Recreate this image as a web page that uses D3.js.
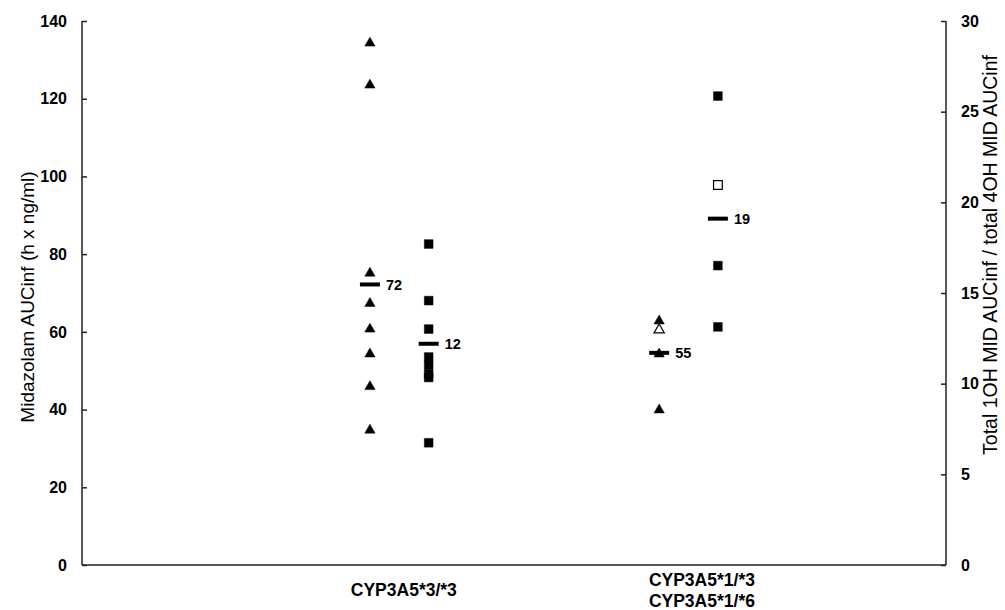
<!DOCTYPE html>
<html>
<head>
<meta charset="utf-8">
<script src="https://cdn.jsdelivr.net/npm/d3@7"></script>
<style>
  html, body { margin: 0; padding: 0; background: #fff; }
  svg { display: block; font-family: "Liberation Sans", Arial, sans-serif; }
</style>
</head>
<body>
<svg id="chart" width="1005" height="610"></svg>
<script>
// ---- data ----
const categories = ["CYP3A5*3/*3", "CYP3A5*1/*3\nCYP3A5*1/*6"];
// Midazolam AUCinf (left axis), triangles
const aucGroup1 = [134.3, 123.5, 75.1, 67.3, 60.7, 54.3, 45.9, 34.7];
const aucGroup1Open = [false, false, false, false, false, false, false, false];
const aucGroup2 = [62.8, 60.5, 54.3, 39.9];
const aucGroup2Open = [false, true, false, false];
// Ratio 1OH / 4OH (right axis), squares
const ratioGroup1 = [17.70, 14.58, 13.01, 11.47, 11.02, 10.53, 10.34, 6.74];
const ratioGroup1Open = [false, false, false, false, false, false, false, false];
const ratioGroup2 = [25.86, 20.96, 16.51, 13.13];
const ratioGroup2Open = [false, true, false, false];
// group means (drawn as bars with labels)
const aucMeans = [72.2, 54.6];
const ratioMeans = [12.2, 19.1];
const leftTicks = [0, 20, 40, 60, 80, 100, 120, 140];
const rightTicks = [0, 5, 10, 15, 20, 25, 30];
const leftTitle = "Midazolam AUCinf (h x ng/ml)";
const rightTitle = "Total 1OH MID AUCinf / total 4OH MID AUCinf";

// ---- layout ----
const svg = d3.select("#chart");
const L = 82, R = 946, T = 21, B = 565;
const x = d3.scaleLinear().domain([0, 4]).range([L, R]);
const yL = d3.scaleLinear().domain([0, 140]).range([B, T]);
const yR = d3.scaleLinear().domain([0, 30]).range([B, T]);
const catPos = [1.467, 2.806];
const seriesOff = [-0.134, 0.138];
const labelPos = [1.49, 2.87];
const axisColor = "#222";

// axes lines
const axG = svg.append("g").attr("stroke", axisColor).attr("stroke-width", 1.5).attr("fill", "none");
axG.append("line").attr("x1", L).attr("x2", L).attr("y1", T).attr("y2", B);
axG.append("line").attr("x1", R).attr("x2", R).attr("y1", T).attr("y2", B);
axG.append("line").attr("x1", L).attr("x2", R).attr("y1", B).attr("y2", B);

// left axis
const leftAxis = d3.axisRight(yL).tickValues(leftTicks).tickSize(5).tickFormat("");
const gl = svg.append("g").attr("transform", `translate(${L},0)`).call(leftAxis);
gl.select(".domain").remove();
gl.selectAll(".tick line").attr("stroke", axisColor).attr("stroke-width", 1.5);
svg.append("g").selectAll("text").data(leftTicks).join("text")
  .attr("x", L - 15).attr("y", d => yL(d)).attr("dy", "0.36em")
  .attr("text-anchor", "end").attr("font-weight", "bold").attr("font-size", 16)
  .attr("fill", "#000").text(d => d);

// right axis
const rightAxis = d3.axisLeft(yR).tickValues(rightTicks).tickSize(5).tickFormat("");
const gr = svg.append("g").attr("transform", `translate(${R},0)`).call(rightAxis);
gr.select(".domain").remove();
gr.selectAll(".tick line").attr("stroke", axisColor).attr("stroke-width", 1.5);
svg.append("g").selectAll("text").data(rightTicks).join("text")
  .attr("x", R + 15).attr("y", d => yR(d)).attr("dy", "0.36em")
  .attr("text-anchor", "start").attr("font-weight", "bold").attr("font-size", 16)
  .attr("fill", "#000").text(d => d);

// axis titles
svg.append("text")
  .attr("transform", `translate(27,297) rotate(-90)`)
  .attr("text-anchor", "middle").attr("dy", "0.35em")
  .attr("font-size", 19).attr("fill", "#000").text(leftTitle);
svg.append("text")
  .attr("transform", `translate(990,255) rotate(-90)`)
  .attr("text-anchor", "middle").attr("dy", "0.35em")
  .attr("font-size", 19.5).attr("fill", "#000").text(rightTitle);

// category labels
categories.forEach((c, i) => {
  const lines = c.split("\n");
  const t = svg.append("text").attr("text-anchor", "middle")
    .attr("font-weight", "bold").attr("font-size", 17.5).attr("fill", "#000");
  const lh = 21;
  const centerY = 590;
  lines.forEach((ln, j) => {
    t.append("tspan").attr("x", x(labelPos[i]))
      .attr("y", centerY + (j - (lines.length - 1) / 2) * lh)
      .attr("dy", "0.36em").text(ln);
  });
});

// markers
const tri = d3.symbol().type(d3.symbolTriangle).size(46);
const sq = d3.symbol().type(d3.symbolSquare).size(76);

function drawSeries(vals, opens, xv, yScale, gen) {
  svg.append("g").selectAll("path").data(vals.map((v, i) => ({ v, open: opens[i] }))).join("path")
    .attr("d", gen)
    .attr("transform", d => `translate(${x(xv)},${yScale(d.v)})`)
    .attr("fill", d => d.open ? "#fff" : "#000")
    .attr("stroke", "#000").attr("stroke-width", d => d.open ? 1.2 : 0.5);
}
drawSeries(aucGroup1, aucGroup1Open, catPos[0] + seriesOff[0], yL, tri);
drawSeries(ratioGroup1, ratioGroup1Open, catPos[0] + seriesOff[1], yR, sq);
drawSeries(aucGroup2, aucGroup2Open, catPos[1] + seriesOff[0], yL, tri);
drawSeries(ratioGroup2, ratioGroup2Open, catPos[1] + seriesOff[1], yR, sq);

// mean bars + labels
const fmt = d3.format(".0f");
function drawMean(v, xv, yScale) {
  const cx = x(xv), cy = yScale(v);
  svg.append("rect").attr("x", cx - 10).attr("y", cy - 2).attr("width", 20).attr("height", 4).attr("fill", "#000");
  svg.append("text").attr("x", cx + 16).attr("y", cy).attr("dy", "0.36em")
    .attr("font-weight", "bold").attr("font-size", 14.5).attr("fill", "#000").text(fmt(v));
}
drawMean(aucMeans[0], catPos[0] + seriesOff[0], yL);
drawMean(ratioMeans[0], catPos[0] + seriesOff[1], yR);
drawMean(aucMeans[1], catPos[1] + seriesOff[0], yL);
drawMean(ratioMeans[1], catPos[1] + seriesOff[1], yR);
</script>
</body>
</html>
